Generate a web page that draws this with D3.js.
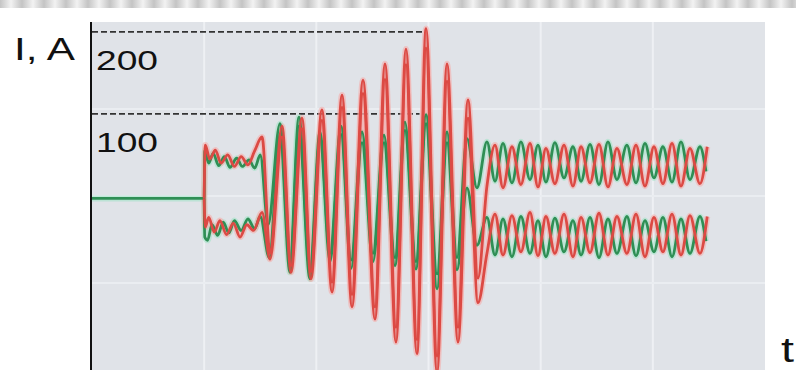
<!DOCTYPE html>
<html>
<head>
<meta charset="utf-8">
<script src="https://cdn.jsdelivr.net/npm/d3@7"></script>
<style>
  body { margin: 0; background: #fff; }
  text { font-family: "Liberation Sans", Arial, sans-serif; fill: #111; }
</style>
</head>
<body>
<script>
// current traces, [t, I(A)], t in arbitrary units (grid every 100)
const greenUpper = [
  [0, -3], [100, -3], [100.5, 55], [104, 40], [108, 52], [113, 37], [118, 48], [123, 35],
  [129, 46], [134, 36], [140, 44], [145, 34], [150, 50], [157, -35],
  [167.6, 88], [176.5, -80], [184.5, 96], [194.3, -90], [203.3, 78], [212.2, -70],
  [222, 85], [231, -78], [240.7, 78], [250.5, -70], [260.3, 74], [270.1, -75],
  [279, 90], [288.8, -80], [297.8, 99], [307.6, -95], [316.5, 78], [325.4, -75],
  [334.3, 70], [343.2, 10],
  [352.1, 66], [359.3, 18], [366.4, 64], [374.4, 16], [382.4, 66], [390.5, 20],
  [397.6, 62], [404.7, 17], [412.7, 65], [420.8, 22], [428.8, 60], [436, 18],
  [444, 63], [452, 14], [460, 66], [468, 20], [476.9, 62], [485, 16], [493, 64],
  [501, 22], [509, 60], [517.1, 17], [525.1, 66], [533.1, 20], [542, 60], [547.4, 30]
];
const greenLower = [
  [100, -3], [100.5, -50], [103, -54], [107, -35], [112, -48], [117, -32], [122, -45],
  [127, -30], [133, -42], [139, -28], [145, -40], [150, -25], [158, -75],
  [167.6, 75], [176.5, -93], [184.5, 85], [194.3, -101], [203.3, 70], [212.2, -80],
  [222, 75], [231, -88], [240.7, 65], [250.5, -80], [260.3, 65], [270.1, -85],
  [279, 80], [288.8, -89], [297.8, 88], [307.6, -113], [316.5, 65], [325.4, -90],
  [334.3, 10], [343.2, -60],
  [352.1, -26], [359.3, -72], [366.4, -28], [374.4, -74], [382.4, -25], [390.5, -70],
  [397.6, -30], [404.7, -74], [412.7, -27], [420.8, -68], [428.8, -30], [436, -72],
  [444, -26], [452, -75], [460, -28], [468, -70], [476.9, -25], [485, -73], [493, -30],
  [501, -68], [509, -26], [517.1, -74], [525.1, -28], [533.1, -70], [542, -25], [547.4, -55]
];
const redUpper = [
  [100, -3], [101, 62], [105, 45], [110, 56], [115, 40], [121, 50], [127, 36],
  [133, 48], [139, 38], [145, 55], [151.6, 72],
  [158.7, -70], [169.4, 85], [177.4, -85], [187.2, 95], [195.2, -92], [205, 105],
  [214, -105], [222.9, 123], [231.8, -120], [241.6, 141], [252.3, -135], [261.2, 161],
  [271, -160], [279.9, 179], [289.7, -175], [297.8, 204], [307.6, -195], [316.5, 161],
  [326.3, -160], [335.2, 117], [344.1, -100],
  [352.1, 12], [359.3, 62], [366.4, 10], [374.4, 60], [382.4, 14], [390.5, 64],
  [397.6, 11], [404.7, 58], [412.7, 15], [420.8, 62], [428.8, 12], [436, 60],
  [444, 16], [452, 63], [460, 11], [468, 58], [476.9, 14], [485, 62], [493, 12],
  [501, 60], [509, 15], [517.1, 64], [525.1, 12], [533.1, 58], [542, 15], [548.5, 60]
];
const redLower = [
  [100, -3], [101, -38], [104, -26], [109, -44], [114, -30], [120, -47], [126, -33],
  [132, -50], [138, -35], [144, -42], [151.6, -20],
  [158.7, -77], [169.4, 72], [177.4, -93], [187.2, 82], [195.2, -101], [205, 92],
  [214, -117], [222.9, 108], [231.8, -135], [241.6, 125], [252.3, -150], [261.2, 142],
  [271, -178], [279.9, 160], [289.7, -192], [297.8, 180], [307.6, -215], [316.5, 140],
  [326.3, -178], [335.2, 95], [344.1, -130],
  [352.1, -70], [359.3, -22], [366.4, -72], [374.4, -24], [382.4, -68], [390.5, -20],
  [397.6, -73], [404.7, -25], [412.7, -70], [420.8, -22], [428.8, -74], [436, -26],
  [444, -69], [452, -21], [460, -72], [468, -25], [476.9, -70], [485, -22], [493, -74],
  [501, -26], [509, -68], [517.1, -22], [525.1, -72], [533.1, -24], [542, -70], [548.5, -25]
];

// marked current levels (dashed) and where each dash line stops
const levelValues = [200, 100];
const levelLabels = ["200", "100"];
const levelEnds = [297, 292];

const gridX = [100, 200, 300, 400, 500];
const gridY = [-106, 0, 106];

const width = 796;
const height = 370;
const plot = { left: 92, right: 765, top: 22, bottom: 370 };

const svg = d3.select("body").append("svg")
  .attr("width", width)
  .attr("height", height);

const defs = svg.append("defs");

// striped band at the very top of the scan
const grad = defs.append("linearGradient").attr("id", "stripe");
grad.append("stop").attr("offset", "0%").attr("stop-color", "#c4c4c4");
grad.append("stop").attr("offset", "50%").attr("stop-color", "#f2f2f2");
grad.append("stop").attr("offset", "100%").attr("stop-color", "#c4c4c4");
defs.append("pattern")
  .attr("id", "stripes")
  .attr("patternUnits", "userSpaceOnUse")
  .attr("width", 22).attr("height", 10)
  .append("rect").attr("width", 22).attr("height", 10).attr("fill", "url(#stripe)");

svg.append("rect")
  .attr("x", 0).attr("y", 0)
  .attr("width", width).attr("height", 8)
  .attr("fill", "url(#stripes)");

defs.append("clipPath").attr("id", "clip")
  .append("rect")
  .attr("x", plot.left).attr("y", plot.top)
  .attr("width", plot.right - plot.left).attr("height", plot.bottom - plot.top);

const x = d3.scaleLinear().domain([0, 600]).range([plot.left, plot.right]);
const y = d3.scaleLinear().domain([-212, 212]).range([plot.bottom, plot.top]);

svg.append("rect")
  .attr("x", plot.left).attr("y", plot.top)
  .attr("width", plot.right - plot.left).attr("height", plot.bottom - plot.top)
  .attr("fill", "#e0e3e8");

// faint grid
svg.append("g")
  .selectAll("line")
  .data(gridX)
  .join("line")
  .attr("x1", (d) => x(d)).attr("x2", (d) => x(d))
  .attr("y1", plot.top).attr("y2", plot.bottom)
  .attr("stroke", "#eef0f4").attr("stroke-width", 2);

svg.append("g")
  .selectAll("line")
  .data(gridY)
  .join("line")
  .attr("x1", plot.left).attr("x2", plot.right)
  .attr("y1", (d) => y(d)).attr("y2", (d) => y(d))
  .attr("stroke", "#eaedf1").attr("stroke-width", 2);

// dashed level lines
svg.append("g")
  .selectAll("line")
  .data(levelValues)
  .join("line")
  .attr("x1", plot.left).attr("x2", (d, i) => x(levelEnds[i]))
  .attr("y1", (d) => y(d)).attr("y2", (d) => y(d))
  .attr("stroke", "#333").attr("stroke-width", 1.6)
  .attr("stroke-dasharray", "6,3");

svg.append("g")
  .selectAll("text")
  .data(levelValues)
  .join("text")
  .attr("x", 158)
  .attr("y", (d) => y(d) + 38.5)
  .attr("text-anchor", "end")
  .attr("font-size", 28)
  .attr("textLength", 62)
  .attr("lengthAdjust", "spacingAndGlyphs")
  .text((d, i) => levelLabels[i]);

// traces
const line = d3.line()
  .curve(d3.curveMonotoneX)
  .x((d) => x(d[0]))
  .y((d) => y(d[1]));

const traces = svg.append("g").attr("clip-path", "url(#clip)");

const series = [
  { data: greenLower, core: "#2f8f55", halo: "#9fe3c4" },
  { data: greenUpper, core: "#2f8f55", halo: "#9fe3c4" },
  { data: redLower, core: "#dc4a44", halo: "#f6a9a6" },
  { data: redUpper, core: "#dc4a44", halo: "#f6a9a6" }
];

series.forEach((s) => {
  traces.append("path")
    .datum(s.data)
    .attr("d", line)
    .attr("fill", "none")
    .attr("stroke", s.halo)
    .attr("stroke-opacity", 0.55)
    .attr("stroke-width", 6)
    .attr("stroke-linejoin", "round");
});

series.forEach((s) => {
  traces.append("path")
    .datum(s.data)
    .attr("d", line)
    .attr("fill", "none")
    .attr("stroke", s.core)
    .attr("stroke-width", 2.8)
    .attr("stroke-linejoin", "round");
});

// y axis line
svg.append("line")
  .attr("x1", plot.left - 1).attr("x2", plot.left - 1)
  .attr("y1", plot.top).attr("y2", plot.bottom)
  .attr("stroke", "#111").attr("stroke-width", 2);

svg.append("text")
  .attr("x", 14)
  .attr("y", 60)
  .attr("font-size", 32)
  .attr("textLength", 61)
  .attr("lengthAdjust", "spacingAndGlyphs")
  .text("I, A");

svg.append("text")
  .attr("x", 781)
  .attr("y", 362)
  .attr("font-size", 35)
  .attr("textLength", 13)
  .attr("lengthAdjust", "spacingAndGlyphs")
  .text("t");
</script>
</body>
</html>
